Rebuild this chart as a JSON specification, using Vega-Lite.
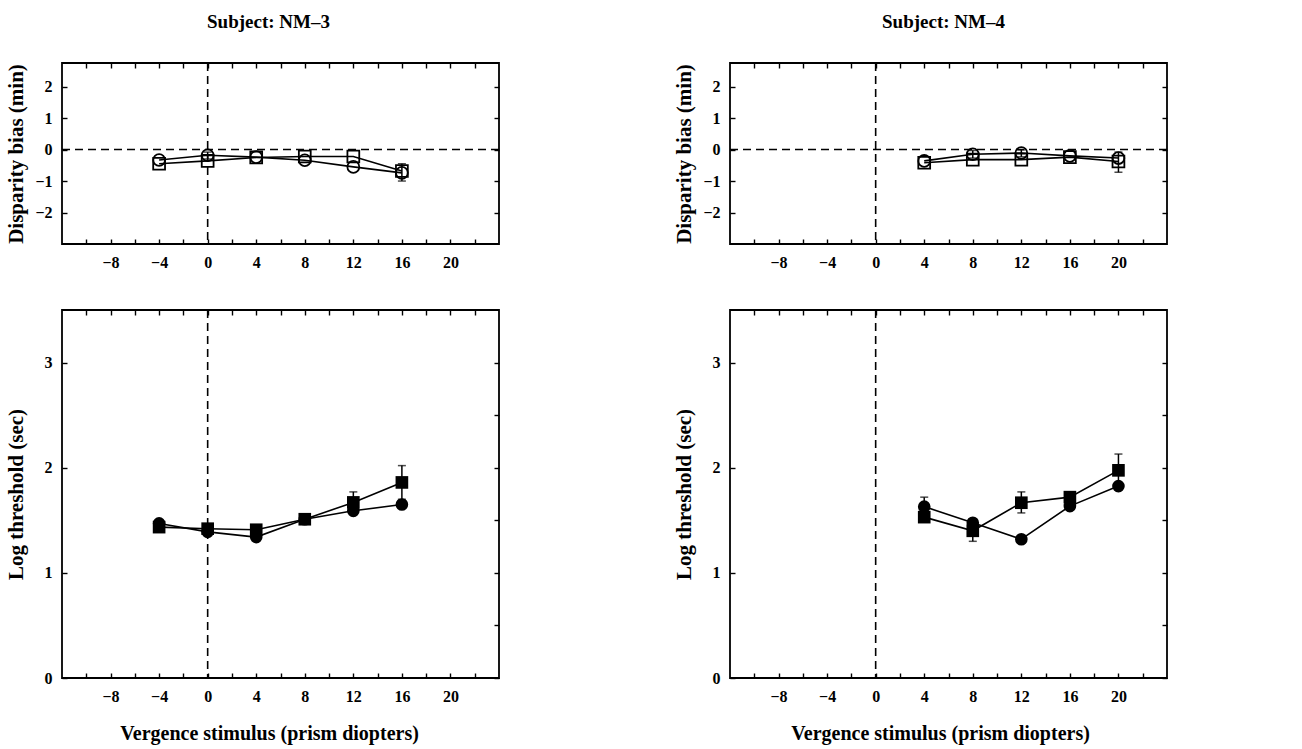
{
  "$schema": "https://vega.github.io/schema/vega-lite/v6.json",
  "background": "white",
  "padding": {"left": 4, "top": 12, "right": 5, "bottom": 3},
  "config": {
    "font": "Liberation Serif",
    "view": {"stroke": "black", "strokeWidth": 1.8},
    "axis": {
      "labelFont": "Liberation Serif",
      "labelFontWeight": "bold",
      "labelFontSize": 16,
      "labelColor": "black",
      "titleFont": "Liberation Serif",
      "titleFontWeight": "bold",
      "titleColor": "black",
      "domain": false,
      "grid": false,
      "tickColor": "black",
      "tickSize": -5,
      "tickWidth": 1.4
    },
    "title": {"font": "Liberation Serif", "fontWeight": "bold", "fontSize": 19, "color": "black"}
  },
  "datasets": {
    "pts": [
      {"subject": "NM-3", "measure": "bias", "series": "circle", "x": -4, "y": -0.33, "lo": null, "hi": null},
      {"subject": "NM-3", "measure": "bias", "series": "circle", "x": 0, "y": -0.18, "lo": -0.3, "hi": -0.08},
      {"subject": "NM-3", "measure": "bias", "series": "circle", "x": 4, "y": -0.24, "lo": null, "hi": null},
      {"subject": "NM-3", "measure": "bias", "series": "circle", "x": 8, "y": -0.34, "lo": null, "hi": null},
      {"subject": "NM-3", "measure": "bias", "series": "circle", "x": 12, "y": -0.55, "lo": null, "hi": null},
      {"subject": "NM-3", "measure": "bias", "series": "circle", "x": 16, "y": -0.74, "lo": null, "hi": null},
      {"subject": "NM-3", "measure": "bias", "series": "square", "x": -4, "y": -0.45, "lo": null, "hi": null},
      {"subject": "NM-3", "measure": "bias", "series": "square", "x": 0, "y": -0.36, "lo": null, "hi": null},
      {"subject": "NM-3", "measure": "bias", "series": "square", "x": 4, "y": -0.25, "lo": null, "hi": null},
      {"subject": "NM-3", "measure": "bias", "series": "square", "x": 8, "y": -0.22, "lo": null, "hi": null},
      {"subject": "NM-3", "measure": "bias", "series": "square", "x": 12, "y": -0.22, "lo": null, "hi": null},
      {"subject": "NM-3", "measure": "bias", "series": "square", "x": 16, "y": -0.68, "lo": -1.0, "hi": -0.45},

      {"subject": "NM-4", "measure": "bias", "series": "circle", "x": 4, "y": -0.36, "lo": null, "hi": null},
      {"subject": "NM-4", "measure": "bias", "series": "circle", "x": 8, "y": -0.15, "lo": -0.27, "hi": -0.03},
      {"subject": "NM-4", "measure": "bias", "series": "circle", "x": 12, "y": -0.11, "lo": -0.23, "hi": -0.01},
      {"subject": "NM-4", "measure": "bias", "series": "circle", "x": 16, "y": -0.2, "lo": null, "hi": null},
      {"subject": "NM-4", "measure": "bias", "series": "circle", "x": 20, "y": -0.27, "lo": null, "hi": null},
      {"subject": "NM-4", "measure": "bias", "series": "square", "x": 4, "y": -0.42, "lo": null, "hi": null},
      {"subject": "NM-4", "measure": "bias", "series": "square", "x": 8, "y": -0.32, "lo": null, "hi": null},
      {"subject": "NM-4", "measure": "bias", "series": "square", "x": 12, "y": -0.32, "lo": null, "hi": null},
      {"subject": "NM-4", "measure": "bias", "series": "square", "x": 16, "y": -0.24, "lo": null, "hi": null},
      {"subject": "NM-4", "measure": "bias", "series": "square", "x": 20, "y": -0.38, "lo": -0.72, "hi": -0.08},

      {"subject": "NM-3", "measure": "thr", "series": "circle", "x": -4, "y": 1.47, "lo": null, "hi": null},
      {"subject": "NM-3", "measure": "thr", "series": "circle", "x": 0, "y": 1.39, "lo": null, "hi": null},
      {"subject": "NM-3", "measure": "thr", "series": "circle", "x": 4, "y": 1.34, "lo": null, "hi": null},
      {"subject": "NM-3", "measure": "thr", "series": "circle", "x": 8, "y": 1.51, "lo": null, "hi": null},
      {"subject": "NM-3", "measure": "thr", "series": "circle", "x": 12, "y": 1.59, "lo": null, "hi": null},
      {"subject": "NM-3", "measure": "thr", "series": "circle", "x": 16, "y": 1.65, "lo": null, "hi": null},
      {"subject": "NM-3", "measure": "thr", "series": "square", "x": -4, "y": 1.435, "lo": null, "hi": null},
      {"subject": "NM-3", "measure": "thr", "series": "square", "x": 0, "y": 1.42, "lo": null, "hi": null},
      {"subject": "NM-3", "measure": "thr", "series": "square", "x": 4, "y": 1.41, "lo": null, "hi": null},
      {"subject": "NM-3", "measure": "thr", "series": "square", "x": 8, "y": 1.51, "lo": null, "hi": null},
      {"subject": "NM-3", "measure": "thr", "series": "square", "x": 12, "y": 1.67, "lo": 1.57, "hi": 1.77},
      {"subject": "NM-3", "measure": "thr", "series": "square", "x": 16, "y": 1.86, "lo": 1.7, "hi": 2.02},

      {"subject": "NM-4", "measure": "thr", "series": "circle", "x": 4, "y": 1.63, "lo": 1.54, "hi": 1.72},
      {"subject": "NM-4", "measure": "thr", "series": "circle", "x": 8, "y": 1.476, "lo": null, "hi": null},
      {"subject": "NM-4", "measure": "thr", "series": "circle", "x": 12, "y": 1.32, "lo": null, "hi": null},
      {"subject": "NM-4", "measure": "thr", "series": "circle", "x": 16, "y": 1.635, "lo": null, "hi": null},
      {"subject": "NM-4", "measure": "thr", "series": "circle", "x": 20, "y": 1.825, "lo": null, "hi": null},
      {"subject": "NM-4", "measure": "thr", "series": "square", "x": 4, "y": 1.53, "lo": null, "hi": null},
      {"subject": "NM-4", "measure": "thr", "series": "square", "x": 8, "y": 1.4, "lo": 1.3, "hi": 1.5},
      {"subject": "NM-4", "measure": "thr", "series": "square", "x": 12, "y": 1.667, "lo": 1.57, "hi": 1.77},
      {"subject": "NM-4", "measure": "thr", "series": "square", "x": 16, "y": 1.72, "lo": null, "hi": null},
      {"subject": "NM-4", "measure": "thr", "series": "square", "x": 20, "y": 1.975, "lo": 1.82, "hi": 2.13}
    ]
  },
  "columns": 2,
  "align": "each",
  "spacing": {"row": 35, "column": 171},
  "concat": [
    {
      "width": 437,
      "height": 181,
      "title": {"text": "Subject: NM–3", "anchor": "middle", "frame": "group", "offset": 30, "dx": -12},
      "resolve": {"axis": {"x": "independent", "y": "independent"}},
      "layer": [
        {
          "data": {"values": [{}]},
          "mark": {"type": "rule", "color": "black", "strokeWidth": 1.6, "strokeDash": [8, 5]},
          "encoding": {
            "x": {"datum": 0, "type": "quantitative", "scale": {"domain": [-12, 24], "nice": false, "zero": false},
                  "axis": {"orient": "top", "values": [-10, -8, -6, -4, -2, 0, 2, 4, 6, 8, 10, 12, 14, 16, 18, 20, 22], "labels": false, "title": null, "minExtent": 0, "maxExtent": 0}}
          }
        },
        {
          "data": {"values": [{}]},
          "mark": {"type": "rule", "color": "black", "strokeWidth": 1.6, "strokeDash": [8, 5]},
          "encoding": {
            "y": {"datum": 0, "type": "quantitative", "scale": {"domain": [-3, 2.75], "nice": false, "zero": false},
                  "axis": {"orient": "right", "values": [-2, -1, 0, 1, 2], "labels": false, "title": null, "minExtent": 0, "maxExtent": 0}}
          }
        },
        {
          "data": {"name": "pts"},
          "transform": [{"filter": "datum.subject == 'NM-3' && datum.measure == 'bias'"}],
          "mark": {"type": "line", "color": "black", "strokeWidth": 1.6},
          "encoding": {
            "x": {"field": "x", "type": "quantitative", "scale": {"domain": [-12, 24], "nice": false, "zero": false},
                  "axis": {"orient": "bottom", "values": [-10, -8, -6, -4, -2, 0, 2, 4, 6, 8, 10, 12, 14, 16, 18, 20, 22], "format": "d",
                           "labelExpr": "abs(datum.value % 4) == 0 && datum.value >= -8 && datum.value <= 20 ? datum.label : ''",
                           "labelPadding": 15, "title": null, "minExtent": 28, "maxExtent": 28}},
            "y": {"field": "y", "type": "quantitative", "scale": {"domain": [-3, 2.75], "nice": false, "zero": false},
                  "axis": {"orient": "left", "values": [-2, -1, 0, 1, 2], "format": "d", "labelPadding": 15, "minExtent": 28, "maxExtent": 28,
                           "title": "Disparity bias (min)", "titleFontSize": 21, "titlePadding": 8}},
            "detail": {"field": "series"}
          }
        },
        {
          "data": {"name": "pts"},
          "transform": [{"filter": "datum.subject == 'NM-3' && datum.measure == 'bias' && isValid(datum.lo)"}],
          "mark": {"type": "errorbar", "color": "black", "thickness": 1.5, "ticks": {"size": 8, "thickness": 1.5}},
          "encoding": {
            "x": {"field": "x", "type": "quantitative", "axis": null},
            "y": {"field": "lo", "type": "quantitative", "axis": null},
            "y2": {"field": "hi"}
          }
        },
        {
          "data": {"name": "pts"},
          "transform": [{"filter": "datum.subject == 'NM-3' && datum.measure == 'bias'"}],
          "mark": {"type": "point", "filled": false, "color": "black", "strokeWidth": 1.8, "size": 140, "opacity": 1},
          "encoding": {
            "x": {"field": "x", "type": "quantitative", "axis": null},
            "y": {"field": "y", "type": "quantitative", "axis": null},
            "shape": {"field": "series", "scale": {"domain": ["circle", "square"], "range": ["circle", "square"]}, "legend": null}
          }
        }
      ]
    },
    {
      "width": 437,
      "height": 181,
      "title": {"text": "Subject: NM–4", "anchor": "middle", "frame": "group", "offset": 30, "dx": -5},
      "resolve": {"axis": {"x": "independent", "y": "independent"}},
      "layer": [
        {
          "data": {"values": [{}]},
          "mark": {"type": "rule", "color": "black", "strokeWidth": 1.6, "strokeDash": [8, 5]},
          "encoding": {
            "x": {"datum": 0, "type": "quantitative", "scale": {"domain": [-12, 24], "nice": false, "zero": false},
                  "axis": {"orient": "top", "values": [-10, -8, -6, -4, -2, 0, 2, 4, 6, 8, 10, 12, 14, 16, 18, 20, 22], "labels": false, "title": null, "minExtent": 0, "maxExtent": 0}}
          }
        },
        {
          "data": {"values": [{}]},
          "mark": {"type": "rule", "color": "black", "strokeWidth": 1.6, "strokeDash": [8, 5]},
          "encoding": {
            "y": {"datum": 0, "type": "quantitative", "scale": {"domain": [-3, 2.75], "nice": false, "zero": false},
                  "axis": {"orient": "right", "values": [-2, -1, 0, 1, 2], "labels": false, "title": null, "minExtent": 0, "maxExtent": 0}}
          }
        },
        {
          "data": {"name": "pts"},
          "transform": [{"filter": "datum.subject == 'NM-4' && datum.measure == 'bias'"}],
          "mark": {"type": "line", "color": "black", "strokeWidth": 1.6},
          "encoding": {
            "x": {"field": "x", "type": "quantitative", "scale": {"domain": [-12, 24], "nice": false, "zero": false},
                  "axis": {"orient": "bottom", "values": [-10, -8, -6, -4, -2, 0, 2, 4, 6, 8, 10, 12, 14, 16, 18, 20, 22], "format": "d",
                           "labelExpr": "abs(datum.value % 4) == 0 && datum.value >= -8 && datum.value <= 20 ? datum.label : ''",
                           "labelPadding": 15, "title": null, "minExtent": 28, "maxExtent": 28}},
            "y": {"field": "y", "type": "quantitative", "scale": {"domain": [-3, 2.75], "nice": false, "zero": false},
                  "axis": {"orient": "left", "values": [-2, -1, 0, 1, 2], "format": "d", "labelPadding": 15, "minExtent": 28, "maxExtent": 28,
                           "title": "Disparity bias (min)", "titleFontSize": 21, "titlePadding": 8}},
            "detail": {"field": "series"}
          }
        },
        {
          "data": {"name": "pts"},
          "transform": [{"filter": "datum.subject == 'NM-4' && datum.measure == 'bias' && isValid(datum.lo)"}],
          "mark": {"type": "errorbar", "color": "black", "thickness": 1.5, "ticks": {"size": 8, "thickness": 1.5}},
          "encoding": {
            "x": {"field": "x", "type": "quantitative", "axis": null},
            "y": {"field": "lo", "type": "quantitative", "axis": null},
            "y2": {"field": "hi"}
          }
        },
        {
          "data": {"name": "pts"},
          "transform": [{"filter": "datum.subject == 'NM-4' && datum.measure == 'bias'"}],
          "mark": {"type": "point", "filled": false, "color": "black", "strokeWidth": 1.8, "size": 140, "opacity": 1},
          "encoding": {
            "x": {"field": "x", "type": "quantitative", "axis": null},
            "y": {"field": "y", "type": "quantitative", "axis": null},
            "shape": {"field": "series", "scale": {"domain": ["circle", "square"], "range": ["circle", "square"]}, "legend": null}
          }
        }
      ]
    },
    {
      "width": 437,
      "height": 368,
      "resolve": {"axis": {"x": "independent", "y": "independent"}},
      "layer": [
        {
          "data": {"values": [{}]},
          "mark": {"type": "rule", "color": "black", "strokeWidth": 1.6, "strokeDash": [8, 5]},
          "encoding": {
            "x": {"datum": 0, "type": "quantitative", "scale": {"domain": [-12, 24], "nice": false, "zero": false},
                  "axis": {"orient": "top", "values": [-10, -8, -6, -4, -2, 0, 2, 4, 6, 8, 10, 12, 14, 16, 18, 20, 22], "labels": false, "title": null, "minExtent": 0, "maxExtent": 0}}
          }
        },
        {
          "data": {"name": "pts"},
          "transform": [{"filter": "datum.subject == 'NM-3' && datum.measure == 'thr'"}],
          "mark": {"type": "line", "color": "black", "strokeWidth": 1.6},
          "encoding": {
            "x": {"field": "x", "type": "quantitative", "scale": {"domain": [-12, 24], "nice": false, "zero": false},
                  "axis": {"orient": "bottom", "values": [-10, -8, -6, -4, -2, 0, 2, 4, 6, 8, 10, 12, 14, 16, 18, 20, 22], "format": "d",
                           "labelExpr": "abs(datum.value % 4) == 0 && datum.value >= -8 && datum.value <= 20 ? datum.label : ''",
                           "labelPadding": 15, "minExtent": 28, "maxExtent": 28,
                           "title": "Vergence stimulus (prism diopters)", "titleFontSize": 20, "titlePadding": 17, "titleX": 207}},
            "y": {"field": "y", "type": "quantitative", "scale": {"domain": [0, 3.5], "nice": false, "zero": false},
                  "axis": {"orient": "left", "values": [0, 0.5, 1, 1.5, 2, 2.5, 3], "format": "d",
                           "labelExpr": "datum.value % 1 == 0 ? datum.label : ''",
                           "labelPadding": 15, "minExtent": 28, "maxExtent": 28,
                           "title": "Log threshold (sec)", "titleFontSize": 21, "titlePadding": 8}},
            "detail": {"field": "series"}
          }
        },
        {
          "data": {"name": "pts"},
          "transform": [{"filter": "datum.subject == 'NM-3' && datum.measure == 'thr' && isValid(datum.lo)"}],
          "mark": {"type": "errorbar", "color": "black", "thickness": 1.5, "ticks": {"size": 8, "thickness": 1.5}},
          "encoding": {
            "x": {"field": "x", "type": "quantitative", "axis": null},
            "y": {"field": "lo", "type": "quantitative", "axis": null},
            "y2": {"field": "hi"}
          }
        },
        {
          "data": {"name": "pts"},
          "transform": [{"filter": "datum.subject == 'NM-3' && datum.measure == 'thr'"}],
          "mark": {"type": "point", "filled": true, "color": "black", "size": 160, "opacity": 1},
          "encoding": {
            "x": {"field": "x", "type": "quantitative", "axis": null},
            "y": {"field": "y", "type": "quantitative",
                  "axis": {"orient": "right", "values": [0, 0.5, 1, 1.5, 2, 2.5, 3], "labels": false, "title": null, "minExtent": 0, "maxExtent": 0}},
            "shape": {"field": "series", "scale": {"domain": ["circle", "square"], "range": ["circle", "square"]}, "legend": null}
          }
        }
      ]
    },
    {
      "width": 437,
      "height": 368,
      "resolve": {"axis": {"x": "independent", "y": "independent"}},
      "layer": [
        {
          "data": {"values": [{}]},
          "mark": {"type": "rule", "color": "black", "strokeWidth": 1.6, "strokeDash": [8, 5]},
          "encoding": {
            "x": {"datum": 0, "type": "quantitative", "scale": {"domain": [-12, 24], "nice": false, "zero": false},
                  "axis": {"orient": "top", "values": [-10, -8, -6, -4, -2, 0, 2, 4, 6, 8, 10, 12, 14, 16, 18, 20, 22], "labels": false, "title": null, "minExtent": 0, "maxExtent": 0}}
          }
        },
        {
          "data": {"name": "pts"},
          "transform": [{"filter": "datum.subject == 'NM-4' && datum.measure == 'thr'"}],
          "mark": {"type": "line", "color": "black", "strokeWidth": 1.6},
          "encoding": {
            "x": {"field": "x", "type": "quantitative", "scale": {"domain": [-12, 24], "nice": false, "zero": false},
                  "axis": {"orient": "bottom", "values": [-10, -8, -6, -4, -2, 0, 2, 4, 6, 8, 10, 12, 14, 16, 18, 20, 22], "format": "d",
                           "labelExpr": "abs(datum.value % 4) == 0 && datum.value >= -8 && datum.value <= 20 ? datum.label : ''",
                           "labelPadding": 15, "minExtent": 28, "maxExtent": 28,
                           "title": "Vergence stimulus (prism diopters)", "titleFontSize": 20, "titlePadding": 17, "titleX": 210}},
            "y": {"field": "y", "type": "quantitative", "scale": {"domain": [0, 3.5], "nice": false, "zero": false},
                  "axis": {"orient": "left", "values": [0, 0.5, 1, 1.5, 2, 2.5, 3], "format": "d",
                           "labelExpr": "datum.value % 1 == 0 ? datum.label : ''",
                           "labelPadding": 15, "minExtent": 28, "maxExtent": 28,
                           "title": "Log threshold (sec)", "titleFontSize": 21, "titlePadding": 8}},
            "detail": {"field": "series"}
          }
        },
        {
          "data": {"name": "pts"},
          "transform": [{"filter": "datum.subject == 'NM-4' && datum.measure == 'thr' && isValid(datum.lo)"}],
          "mark": {"type": "errorbar", "color": "black", "thickness": 1.5, "ticks": {"size": 8, "thickness": 1.5}},
          "encoding": {
            "x": {"field": "x", "type": "quantitative", "axis": null},
            "y": {"field": "lo", "type": "quantitative", "axis": null},
            "y2": {"field": "hi"}
          }
        },
        {
          "data": {"name": "pts"},
          "transform": [{"filter": "datum.subject == 'NM-4' && datum.measure == 'thr'"}],
          "mark": {"type": "point", "filled": true, "color": "black", "size": 160, "opacity": 1},
          "encoding": {
            "x": {"field": "x", "type": "quantitative", "axis": null},
            "y": {"field": "y", "type": "quantitative",
                  "axis": {"orient": "right", "values": [0, 0.5, 1, 1.5, 2, 2.5, 3], "labels": false, "title": null, "minExtent": 0, "maxExtent": 0}},
            "shape": {"field": "series", "scale": {"domain": ["circle", "square"], "range": ["circle", "square"]}, "legend": null}
          }
        }
      ]
    }
  ]
}
